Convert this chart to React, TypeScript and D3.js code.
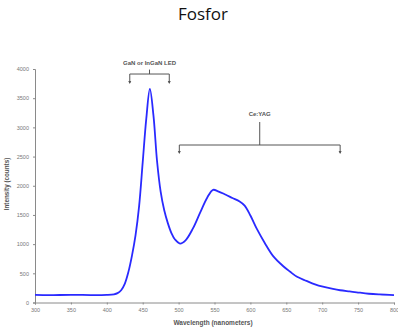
import * as d3 from "d3";
import { useEffect, useRef } from "react";

const wavelength = [
  300, 320, 350, 380, 400, 410, 415, 420, 425, 430, 435, 440, 445, 450, 455, 460, 465, 470, 475, 480, 485, 490,
  495, 502, 510, 520, 530, 540, 548, 555, 565, 575, 585, 592, 600, 609, 620, 632, 645, 655, 665, 678, 690,
  701, 715, 725, 738, 748, 765, 780, 800,
];
const intensity = [
  130, 126, 132, 127, 130, 140, 160, 210, 320, 520, 800, 1150, 1650, 2400, 3150, 3660, 3200, 2420, 1900, 1580,
  1360, 1190, 1080, 1010, 1070, 1270, 1540, 1800, 1930, 1905, 1850, 1790, 1730, 1660, 1490, 1260, 1020,
  790, 630, 530, 440, 370, 310, 270, 232, 210, 190, 175, 150, 138, 128,
];
const xTicks = [300, 350, 400, 450, 500, 550, 600, 650, 700, 750, 800];
const yTicks = [0, 500, 1000, 1500, 2000, 2500, 3000, 3500, 4000];

export default function App() {
  const ref = useRef<SVGSVGElement>(null);

  useEffect(() => {
    if (!ref.current) return;
    const svg = d3.select(ref.current);
    svg.selectAll("*").remove();

    const W = 398;
    const H = 327;
    const axisCol = "#8a8a8a";
    const textCol = "#777";
    const font = "Liberation Sans, Arial, sans-serif";

    const x = d3.scaleLinear().domain([300, 800]).range([35, 394]);
    const y = d3.scaleLinear().domain([0, 4000]).range([302.5, 69]);

    svg.attr("width", W).attr("height", H);
    svg.append("rect").attr("width", W).attr("height", H).attr("fill", "#fff");

    // title
    svg
      .append("text")
      .attr("x", 203)
      .attr("y", 20)
      .attr("text-anchor", "middle")
      .attr("font-family", "Open Sans, sans-serif")
      .attr("font-size", 17)
      .attr("fill", "#111")
      .text("Fosfor");

    // x axis
    svg
      .append("g")
      .attr("transform", `translate(0,${y(0)})`)
      .call(d3.axisBottom(x).tickValues(xTicks).tickFormat(d3.format("d")).tickSize(2).tickPadding(4))
      .call(g => g.select(".domain").attr("stroke", axisCol))
      .call(g => g.selectAll("line").attr("stroke", axisCol))
      .call(g => g.selectAll("text").attr("fill", textCol).attr("font-size", 5.5).attr("font-family", font));

    // y axis
    svg
      .append("g")
      .attr("transform", `translate(${x(300)},0)`)
      .call(d3.axisLeft(y).tickValues(yTicks).tickFormat(d3.format("d")).tickSize(2).tickPadding(4))
      .call(g => g.select(".domain").attr("stroke", axisCol))
      .call(g => g.selectAll("line").attr("stroke", axisCol))
      .call(g => g.selectAll("text").attr("fill", textCol).attr("font-size", 5.5).attr("font-family", font));

    // axis titles
    svg
      .append("text")
      .attr("transform", `translate(9,184) rotate(-90)`)
      .attr("text-anchor", "middle")
      .attr("font-family", font)
      .attr("font-weight", 700)
      .attr("font-size", 6.3)
      .attr("fill", "#555")
      .text("Intensity (counts)");
    svg
      .append("text")
      .attr("x", 213)
      .attr("y", 325)
      .attr("text-anchor", "middle")
      .attr("font-family", font)
      .attr("font-weight", 700)
      .attr("font-size", 6.5)
      .attr("fill", "#555")
      .text("Wavelength (nanometers)");

    // spectrum
    const pts: [number, number][] = wavelength.map((w, i) => [w, intensity[i]]);
    const line = d3
      .line<[number, number]>()
      .x(d => x(d[0]))
      .y(d => y(d[1]))
      .curve(d3.curveCatmullRom.alpha(0.5));
    svg
      .append("path")
      .attr("d", line(pts))
      .attr("fill", "none")
      .attr("stroke", "#2a2aff")
      .attr("stroke-width", 1.8);

    // brackets
    const bracket = (x0: number, x1: number, yBar: number, yEnd: number, yTop: number, label: string, yLabel: number) => {
      const g = svg.append("g").attr("stroke", "#555").attr("stroke-width", 1).attr("fill", "none");
      const xm = (x(x0) + x(x1)) / 2;
      g.append("path").attr(
        "d",
        `M${x(x0)},${y(yEnd)}V${y(yBar)}H${x(x1)}V${y(yEnd)}M${xm},${y(yBar)}V${y(yTop)}`,
      );
      [x0, x1].forEach(v => {
        svg
          .append("path")
          .attr("d", `M${x(v) - 1.5},${y(yEnd) - 2}L${x(v)},${y(yEnd) + 1}L${x(v) + 1.5},${y(yEnd) - 2}Z`)
          .attr("fill", "#555");
      });
      svg
        .append("text")
        .attr("x", xm)
        .attr("y", y(yLabel))
        .attr("text-anchor", "middle")
        .attr("font-family", font)
        .attr("font-weight", 700)
        .attr("font-size", 6)
        .attr("fill", "#555")
        .text(label);
    };
    bracket(432, 487, 3914, 3760, 3990, "GaN or InGaN  LED", 4060);
    bracket(501, 725, 2698, 2560, 3092, "Ce:YAG", 3190);
  }, []);

  return <svg ref={ref} style={{ display: "block", position: "absolute", left: 0, top: 0 }} />;
}
